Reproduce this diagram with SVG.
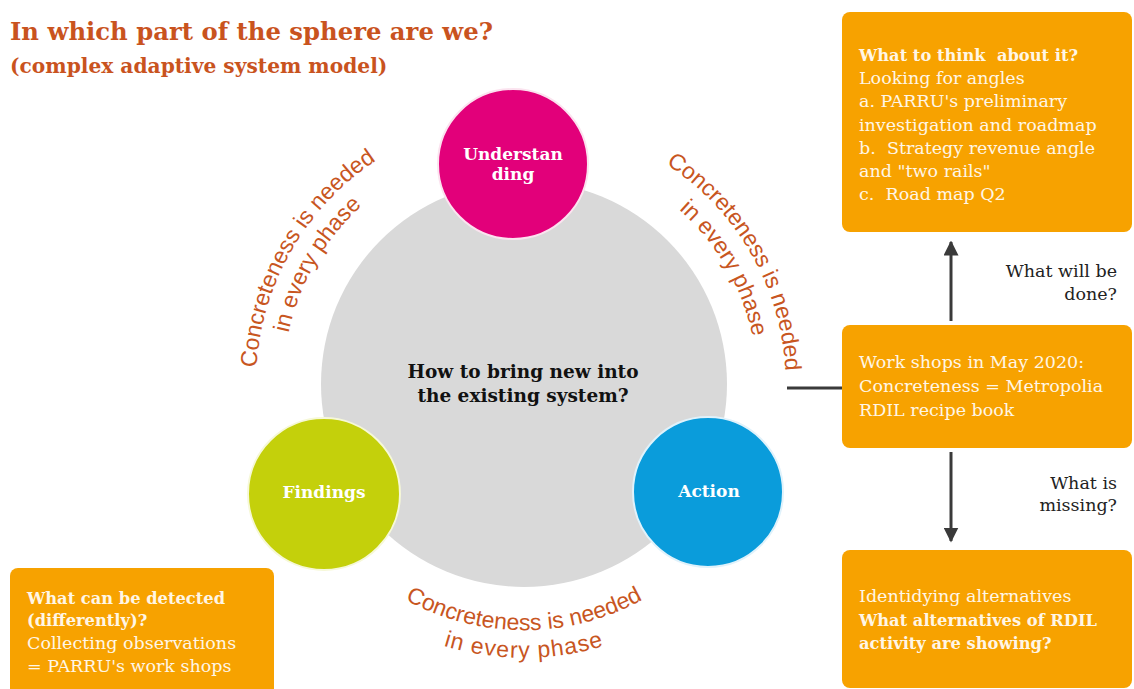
<svg xmlns="http://www.w3.org/2000/svg" width="1134" height="689" viewBox="0 0 1134 689">
<style>
.title{font-family:"DejaVu Serif","Liberation Serif",serif;font-weight:bold;fill:#C9531E}
.box{fill:#F7A200}
.bt{font-family:"DejaVu Serif","Liberation Serif",serif;font-size:17.5px;fill:#FFF6E6;white-space:pre}
.b{font-weight:bold;font-size:16.3px}
.lbl{font-family:"DejaVu Serif","Liberation Serif",serif;font-size:17.5px;fill:#222;text-anchor:end}
.cl{font-family:"DejaVu Serif","Liberation Serif",serif;font-size:17px;font-weight:bold;fill:#fff;text-anchor:middle}
.ct{font-family:"DejaVu Serif","Liberation Serif",serif;font-size:18.5px;font-weight:bold;fill:#111;text-anchor:middle}
.arc{font-family:"Liberation Sans",Arial,sans-serif;font-size:23px;fill:#C8561F}
.conn{stroke:#3a3a3a;stroke-width:3;fill:none}
</style>
<defs>
<marker id="ah" viewBox="0 0 10 10" refX="9" refY="5" markerWidth="5" markerHeight="5" orient="auto" markerUnits="strokeWidth">
<path d="M0,0 L10,5 L0,10 z" fill="#3a3a3a"/>
</marker>
<path id="pL1" d="M351.7,589.3 A268,268 0 0 1 615.7,132.2"/>
<path id="pL2" d="M369.1,568.6 A241,241 0 0 1 606.4,157.5"/>
<path id="pR1" d="M430.0,139.6 A262,262 0 0 1 689.0,587.6"/>
<path id="pR2" d="M440.4,166.7 A233,233 0 0 1 671.2,565.0"/>
<path id="pB1" d="M281.7,426.7 A246,246 0 0 0 766.3,426.7"/>
<path id="pB2" d="M254.2,431.6 A274,274 0 0 0 793.8,431.6"/>
</defs>
<rect width="1134" height="689" fill="#fff"/>

<g id="title">
<text class="title" x="10" y="40" font-size="24.3">In which part of the sphere are we?</text>
<text class="title" x="10" y="73" font-size="20.2">(complex adaptive system model)</text>
</g>

<g id="sphere">
<circle cx="524" cy="384" r="203" fill="#D9D9D9"/>
<text class="ct" x="523" y="378">How to bring new into</text>
<text class="ct" x="523" y="402">the existing system?</text>
</g>

<g id="arc-labels">
<text class="arc"><textPath href="#pL1" startOffset="50%" text-anchor="middle">Concreteness is needed</textPath></text>
<text class="arc"><textPath href="#pL2" startOffset="50%" text-anchor="middle">in every phase</textPath></text>
<text class="arc"><textPath href="#pR1" startOffset="50%" text-anchor="middle">Concreteness is needed</textPath></text>
<text class="arc"><textPath href="#pR2" startOffset="50%" text-anchor="middle">in every phase</textPath></text>
<text class="arc"><textPath href="#pB1" startOffset="50%" text-anchor="middle">Concreteness is needed</textPath></text>
<text class="arc" letter-spacing="1"><textPath href="#pB2" startOffset="50%" text-anchor="middle">in every phase</textPath></text>
</g>

<g id="understanding">
<circle cx="513" cy="164" r="75" fill="#E2007A" stroke="#fbe3ef" stroke-width="2"/>
<text class="cl" x="513" y="160">Understan</text>
<text class="cl" x="513" y="180">ding</text>
</g>

<g id="findings">
<circle cx="324" cy="494" r="76" fill="#C4D00B" stroke="#f6f8d8" stroke-width="2"/>
<text class="cl" x="324" y="498">Findings</text>
</g>

<g id="action">
<circle cx="708" cy="492" r="75" fill="#0A9CDB" stroke="#e0f2fb" stroke-width="2"/>
<text class="cl" x="709" y="497">Action</text>
</g>

<g id="connectors">
<line class="conn" x1="951" y1="321" x2="951" y2="242" marker-end="url(#ah)"/>
<line class="conn" x1="951" y1="452" x2="951" y2="541" marker-end="url(#ah)"/>
<line class="conn" x1="787" y1="388" x2="842" y2="388"/>
</g>

<g id="box-think">
<rect class="box" x="842" y="12" width="290" height="220" rx="8"/>
<text class="bt b" x="859" y="61">What to think  about it?</text>
<text class="bt" x="859" y="84">Looking for angles</text>
<text class="bt" x="859" y="107">a. PARRU's preliminary</text>
<text class="bt" x="859" y="131">investigation and roadmap</text>
<text class="bt" x="859" y="154">b.  Strategy revenue angle</text>
<text class="bt" x="859" y="177">and "two rails"</text>
<text class="bt" x="859" y="200">c.  Road map Q2</text>
</g>

<g id="label-done">
<text class="lbl" x="1117" y="277">What will be</text>
<text class="lbl" x="1117" y="300">done?</text>
</g>

<g id="box-workshops">
<rect class="box" x="842" y="325" width="290" height="123" rx="8"/>
<text class="bt" x="859" y="368">Work shops in May 2020:</text>
<text class="bt" x="859" y="392">Concreteness = Metropolia</text>
<text class="bt" x="859" y="416">RDIL recipe book</text>
</g>

<g id="label-missing">
<text class="lbl" x="1117" y="489">What is</text>
<text class="lbl" x="1117" y="511">missing?</text>
</g>

<g id="box-alternatives">
<rect class="box" x="842" y="550" width="290" height="138" rx="8"/>
<text class="bt" x="859" y="602">Identidying alternatives</text>
<text class="bt b" x="859" y="626">What alternatives of RDIL</text>
<text class="bt b" x="859" y="649">activity are showing?</text>
</g>

<g id="box-detected">
<rect class="box" x="10" y="568" width="264" height="135" rx="8"/>
<text class="bt b" x="27" y="604">What can be detected</text>
<text class="bt b" x="27" y="626">(differently)?</text>
<text class="bt" x="27" y="649">Collecting observations</text>
<text class="bt" x="27" y="672">= PARRU's work shops</text>
</g>
</svg>
